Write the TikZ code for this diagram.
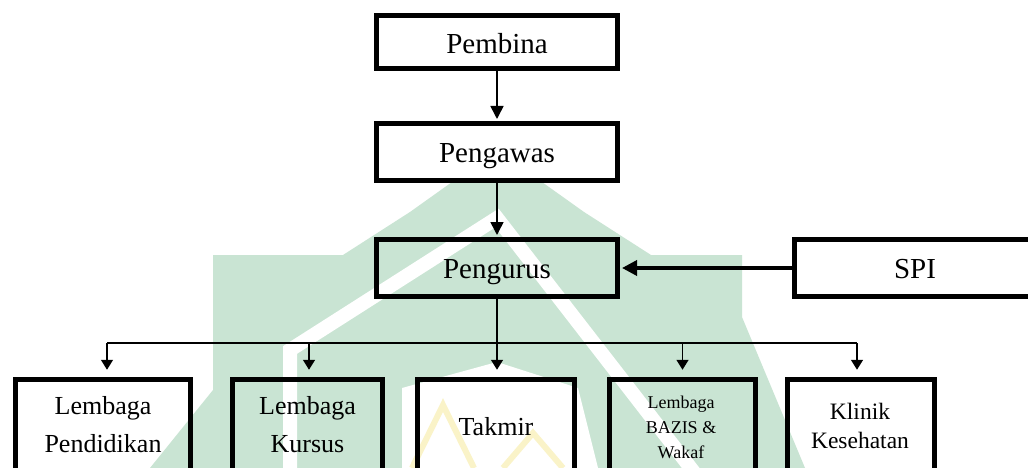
\documentclass[tikz,border=0pt]{standalone}
\usepackage{fontspec}
\setmainfont{Liberation Serif}
\usetikzlibrary{arrows.meta}
\definecolor{wmgreen}{RGB}{201,228,211}
\definecolor{wmyellow}{RGB}{250,243,200}
\tikzset{
  box/.style={draw=black, line width=5pt, rectangle, inner sep=0pt},
  topbox/.style={box, minimum width=241pt, minimum height=55pt},
  lowbox/.style={box, minimum height=140pt},
  lbl/.style={inner sep=0pt, anchor=base},
  big/.style={lbl, font=\fontsize{29}{34}\selectfont},
  mid/.style={lbl, font=\fontsize{26}{30}\selectfont},
  klin/.style={lbl, font=\fontsize{23.5}{28}\selectfont},
  tiny/.style={lbl, font=\fontsize{18}{22}\selectfont},
  link/.style={draw=black, line width=1.6pt},
  headbig/.style={-{Triangle[length=13pt,width=13pt]}},
  headspi/.style={-{Triangle[length=15pt,width=15pt]}},
  headsmall/.style={-{Triangle[length=10pt,width=12pt]}}
}
\begin{document}
\begin{tikzpicture}[x=1pt,y=-1pt]
\clip (0,0) rectangle (1028,468);
\fill[white] (0,0) rectangle (1028,468);

% faded emblem behind the chart
\fill[wmgreen] (150,468) -- (213,390) -- (213,255) -- (343,255) -- (410,212) -- (497,150)
  -- (584,212) -- (651,255) -- (742,255) -- (742,317) -- (805,468) -- cycle;
\draw[white, line width=14pt] (290,480) -- (290,350) -- (497,218) -- (700,480);
\fill[white] (402,468) -- (402,388) -- (497,362) -- (578,388) -- (598,468) -- cycle;
\draw[wmyellow, line width=6pt] (412,468) -- (443,405) -- (474,468);
\draw[wmyellow, line width=6pt] (503,468) -- (533,433) -- (563,468);

% upper levels
\node[topbox, fill=white, minimum height=53pt] (pembina) at (497,42) {};
\node[topbox, fill=white, minimum height=57pt] (pengawas) at (497,152) {};
\node[topbox, minimum height=57pt] (pengurus) at (497,268) {};
\node[topbox, minimum height=57pt] (spi) at (915,268) {};

\node[big] (pembina-t) at (497,54) {Pembina};
\node[big] (pengawas-t) at (497,162) {Pengawas};
\node[big] (pengurus-t) at (497,278) {Pengurus};
\node[big] (spi-t) at (915,278) {SPI};

% units under the board
\node[lowbox, minimum width=175pt] (pendidikan) at (103,449.75) {};
\node[lowbox, minimum width=150pt] (kursus) at (307.5,449.75) {};
\node[lowbox, minimum width=157pt] (takmir) at (496,449.75) {};
\node[lowbox, minimum width=146pt] (bazis) at (682.5,449.75) {};
\node[lowbox, minimum width=147pt] (klinik) at (861,449.75) {};

\node[mid] (pendidikan-a) at (103,414) {Lembaga};
\node[mid] (pendidikan-b) at (103,452) {Pendidikan};
\node[mid] (kursus-a) at (307.5,414) {Lembaga};
\node[mid] (kursus-b) at (307.5,452) {Kursus};
\node[mid] (takmir-t) at (496,435) {Takmir};
\node[tiny] (bazis-a) at (681,408) {Lembaga};
\node[tiny] (bazis-b) at (681,433) {BAZIS \&};
\node[tiny] (bazis-c) at (681,458) {Wakaf};
\node[klin] (klinik-a) at (860,419) {Klinik};
\node[klin] (klinik-b) at (860,448) {Kesehatan};

% connectors
\draw[link, headbig, shorten >=2pt] (pembina.south) -- (pengawas.north);
\draw[link, headbig, shorten >=2pt] (pengawas.south) -- (pengurus.north);
\draw[line width=3.5pt, headspi, shorten >=2pt] (spi.west) -- (pengurus.east);

\coordinate (bus) at (497,343);
\draw[link] (pengurus.south) -- (bus);
\draw[link] ([xshift=4pt]pendidikan.north |- bus) -- ([xshift=-4pt]klinik.north |- bus);
\draw[link, headsmall, shorten >=7.5pt] ([xshift=4pt]pendidikan.north |- bus) -- ([xshift=4pt]pendidikan.north);
\draw[link, headsmall, shorten >=7.5pt] ([xshift=1.5pt]kursus.north |- bus) -- ([xshift=1.5pt]kursus.north);
\draw[link, headsmall, shorten >=7.5pt] (bus) -- (bus |- takmir.north);
\draw[link, headsmall, shorten >=7.5pt] (bazis.north |- bus) -- (bazis.north);
\draw[link, headsmall, shorten >=7.5pt] ([xshift=-4pt]klinik.north |- bus) -- ([xshift=-4pt]klinik.north);
\end{tikzpicture}
\end{document}
